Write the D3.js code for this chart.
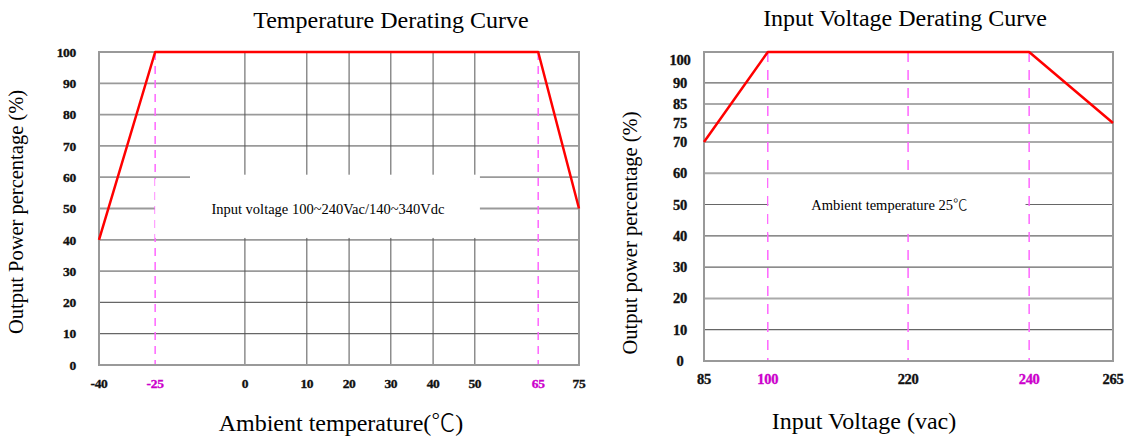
<!DOCTYPE html>
<html>
<head>
<meta charset="utf-8">
<script src="https://cdn.jsdelivr.net/npm/d3@7"></script>
<style>
  html, body { margin: 0; padding: 0; background: #fff; }
  svg text { font-family: "Liberation Serif", "Times New Roman", serif; }
  .tick-lbl { font-weight: bold; letter-spacing: -0.3px; stroke-width: 0.35px; }
  .deg { font-family: "Noto Sans CJK SC", serif; font-weight: 300; }
</style>
</head>
<body>
<svg id="chart" width="1126" height="439"></svg>
<script>
// temperature derating curve
const tempCurveX = [-40, -25, 65, 75];
const tempCurveY = [40, 100, 100, 50];
const tempXTicks = [-40, -25, 0, 10, 20, 30, 40, 50, 65, 75];
const tempXMarked = [-25, 65];
const tempGridX = [0, 10, 20, 30, 40, 50];
const tempYTicks = [0, 10, 20, 30, 40, 50, 60, 70, 80, 90, 100];

// input voltage derating curve
const voltCurveX = [85, 100, 240, 265];
const voltCurveY = [70, 100, 100, 75];
const voltXTicks = [85, 100, 220, 240, 265];
const voltXMarked = [100, 240];
const voltDashX = [100, 220, 240];
const voltYTicks = [0, 10, 20, 30, 40, 50, 60, 70, 75, 85, 90, 100];

const svg = d3.select('#chart');
const magenta = '#cc00cc';

// text with a ℃ drawn in a lighter face
function withDeg(sel, str){
    let i = str.indexOf('℃');
    if(i >= 0){
        sel.append('tspan').text(str.slice(0, i));
        sel.append('tspan').attr('class', 'deg').text('℃');
        if(i < str.length - 1) sel.append('tspan').text(str.slice(i + 1));
    }else{
        sel.text(str);
    }
}

function panel(opt){
    let g = svg.append('g').attr('transform', `translate(${opt.left},${opt.top})`);
    let w = opt.width, h = opt.height;
    // uneven printed axes -> piecewise linear scales
    let x = d3.scaleLinear().domain(opt.xBreaks).range(opt.xFrac.map(f => f * w));
    let y = d3.scaleLinear().domain(opt.yBreaks).range(opt.yFrac.map(f => h - f * h));

    // horizontal grid
    g.selectAll('.hg').data(opt.yTicks.filter(v => v > 0 && v < 100)).enter().append('line')
        .attr('x1', 0).attr('x2', w)
        .attr('y1', d => y(d)).attr('y2', d => y(d))
        .attr('stroke', d => opt.hStroke(d)).attr('stroke-width', d => opt.hWidth(d));
    // vertical grid
    g.selectAll('.vg').data(opt.gridX).enter().append('line')
        .attr('x1', d => x(d)).attr('x2', d => x(d))
        .attr('y1', 0).attr('y2', h)
        .attr('stroke', '#555').attr('stroke-width', 1);
    // dashed markers
    g.selectAll('.dash').data(opt.dashX).enter().append('line')
        .attr('x1', d => x(d)).attr('x2', d => x(d))
        .attr('y1', 0).attr('y2', h)
        .attr('stroke', '#ff66ff').attr('stroke-width', 1.5)
        .attr('stroke-dasharray', opt.dash);
    // note box
    opt.boxes.forEach(b => {
        g.append('rect')
            .attr('x', x(b[0])).attr('y', y(b[2]))
            .attr('width', x(b[1]) - x(b[0])).attr('height', y(b[3]) - y(b[2]))
            .attr('fill', '#fff');
    });
    g.append('text')
        .attr('x', x(opt.note.x)).attr('y', y(opt.note.y)).attr('dy', '0.35em')
        .attr('text-anchor', 'middle').attr('font-size', opt.noteSize)
        .call(withDeg, opt.note.text);
    // frame
    g.append('rect').attr('x', 0).attr('y', 0).attr('width', w).attr('height', h)
        .attr('fill', 'none').attr('stroke', '#999').attr('stroke-width', 2);
    // curve
    g.append('path')
        .datum(opt.curveX.map((v, i) => [v, opt.curveY[i]]))
        .attr('d', d3.line().x(d => x(d[0])).y(d => y(d[1])))
        .attr('fill', 'none').attr('stroke', '#ff0000').attr('stroke-width', 2.5)
        .attr('stroke-linejoin', 'round');

    // tick labels
    g.selectAll('.xl').data(opt.xTicks).enter().append('text')
        .attr('class', 'tick-lbl')
        .attr('x', d => x(d)).attr('y', h + opt.xLabelDy)
        .attr('text-anchor', 'middle').attr('font-size', opt.tickSize)
        .attr('fill', d => opt.marked.includes(d) ? magenta : '#111')
        .attr('stroke', d => opt.marked.includes(d) ? magenta : '#111')
        .text(d => d);
    g.selectAll('.yl').data(opt.yTicks).enter().append('text')
        .attr('class', 'tick-lbl')
        .attr('x', opt.yLabelX).attr('y', d => y(d) + (d == 100 ? opt.topLabelDy : 0)).attr('dy', '0.35em')
        .attr('text-anchor', opt.yAnchor).attr('font-size', opt.tickSize)
        .attr('fill', '#111').attr('stroke', '#111')
        .text(d => d);

    // titles
    svg.append('text').attr('x', opt.title.x).attr('y', opt.title.y)
        .attr('text-anchor', 'middle').attr('font-size', 24).text(opt.title.text);
    svg.append('text').attr('x', opt.xTitle.x).attr('y', opt.xTitle.y)
        .attr('text-anchor', 'middle').attr('font-size', 24).call(withDeg, opt.xTitle.text);
    svg.append('text')
        .attr('transform', `translate(${opt.yTitle.x},${opt.yTitle.y}) rotate(-90)`)
        .attr('text-anchor', 'middle').attr('font-size', 20.5).text(opt.yTitle.text);
}

panel({
    left: 99, top: 52, width: 480, height: 313,
    xBreaks: tempXTicks,
    xFrac: [0, 0.117, 0.304, 0.433, 0.521, 0.608, 0.696, 0.783, 0.915, 1],
    yBreaks: [0, 100], yFrac: [0, 1],
    xTicks: tempXTicks, marked: tempXMarked, yTicks: tempYTicks,
    gridX: tempGridX, dashX: tempXMarked, dash: '8,6',
    hStroke: d => d <= 20 ? '#666' : '#9a9a9a',
    hWidth: d => d <= 20 ? 1.2 : 1.8,
    boxes: [[-25, 51.2, 59.4, 40.6], [-15.3, 51.2, 60.8, 59.3]],
    curveX: tempCurveX, curveY: tempCurveY,
    note: {x: 15, y: 50, text: 'Input voltage 100~240Vac/140~340Vdc'}, noteSize: 14.5,
    tickSize: 13.5, xLabelDy: 23, yLabelX: -23, yAnchor: 'end', topLabelDy: 0,
    title: {x: 391, y: 28, text: 'Temperature Derating Curve'},
    xTitle: {x: 341, y: 431, text: 'Ambient temperature(℃)'},
    yTitle: {x: 23, y: 212, text: 'Output Power percentage (%)'}
});

panel({
    left: 704, top: 52, width: 409, height: 309,
    xBreaks: voltXTicks,
    xFrac: [0, 0.156, 0.499, 0.795, 1],
    yBreaks: [0, 70, 75, 85, 90, 100],
    yFrac: [0, 0.709, 0.770, 0.832, 0.900, 1],
    xTicks: voltXTicks, marked: voltXMarked, yTicks: voltYTicks,
    gridX: [], dashX: voltDashX, dash: '10,8',
    hStroke: d => [20, 60, 70, 75, 85].includes(d) ? '#aaa' : '#666',
    hWidth: d => [20, 60, 70, 75, 85].includes(d) ? 2 : 1.2,
    boxes: [[100.6, 239.4, 59.4, 40.6]],
    curveX: voltCurveX, curveY: voltCurveY,
    note: {x: 204, y: 50, text: 'Ambient temperature 25℃'}, noteSize: 14.5,
    tickSize: 14.5, xLabelDy: 23, yLabelX: -24, yAnchor: 'middle', topLabelDy: 8,
    title: {x: 905, y: 26, text: 'Input Voltage Derating Curve'},
    xTitle: {x: 864, y: 429, text: 'Input Voltage (vac)'},
    yTitle: {x: 637, y: 233, text: 'Output power percentage (%)'}
});
</script>
</body>
</html>
